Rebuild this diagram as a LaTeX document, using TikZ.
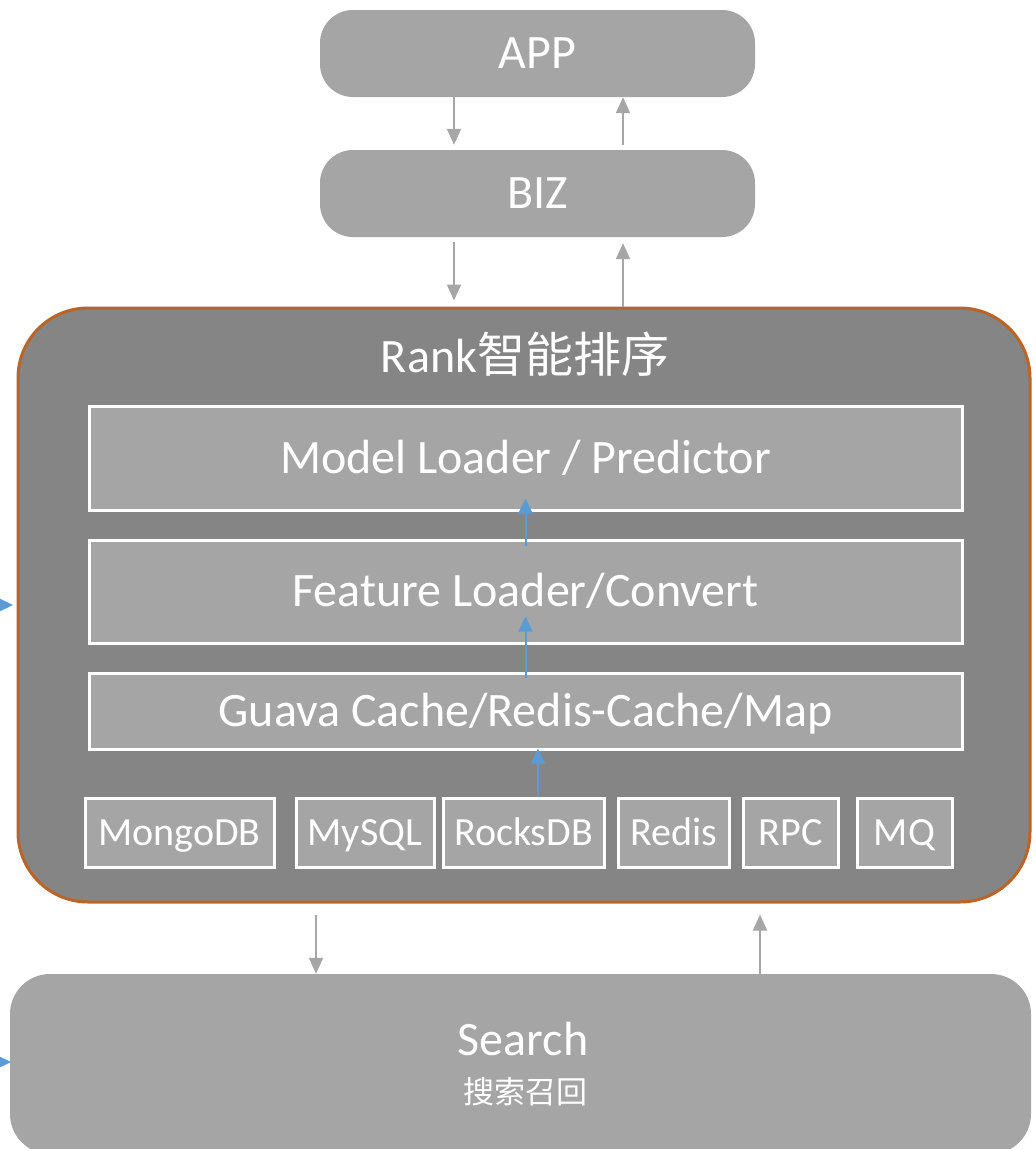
\documentclass[tikz,border=0pt]{standalone}
\usepackage{fontspec}
\setmainfont{Carlito}
\newfontfamily\cjk{Noto Sans CJK SC}
\usetikzlibrary{arrows.meta}
\definecolor{boxgray}{HTML}{A5A5A5}
\definecolor{rankgray}{HTML}{858585}
\definecolor{rankborder}{HTML}{BA6428}
\definecolor{arrowgray}{HTML}{A6A6A6}
\definecolor{arrowblue}{HTML}{5B9BD5}
\tikzset{
  bigtext/.style={font=\fontsize{48}{52}\selectfont, text=white, text height=38pt, text depth=8pt},
  smalltext/.style={font=\fontsize{40}{44}\selectfont, text=white, text height=33pt, text depth=8pt},
  pill/.style={fill=boxgray, draw=none, rounded corners=33pt, inner sep=0pt, bigtext},
  layerbox/.style={fill=boxgray, draw=white, line width=3pt, inner sep=0pt, bigtext},
  storebox/.style={layerbox, smalltext, minimum height=69pt},
  garrow/.style={draw=arrowgray, line width=2pt, -{Triangle[width=14pt,length=16pt]}},
  barrow/.style={draw=arrowblue, line width=2pt, -{Triangle[width=14pt,length=15pt]}},
}
\begin{document}
\begin{tikzpicture}[x=1pt,y=-1pt]
\useasboundingbox (0,0) rectangle (1036,1149);
\clip (0,0) rectangle (1036,1149);
\fill[white] (0,0) rectangle (1036,1149);

% top pills
\node[pill, minimum width=435pt, minimum height=87pt] (app) at (537.5,53.5) {APP};
\node[pill, minimum width=435pt, minimum height=87pt] (biz) at (537.5,193.5) {BIZ};

% rank container
\node[fill=rankgray, draw=rankborder, line width=3pt, rounded corners=70pt,
      minimum width=1012pt, minimum height=594pt, inner sep=0pt] (rank) at (524,605) {};
\node[bigtext] (ranktitle) at (525,357) {Rank{\cjk 智能排序}};

% layers
\node[layerbox, minimum width=873pt, minimum height=104pt] (model) at (525.5,458) {Model Loader / Predictor};
\node[layerbox, minimum width=873pt, minimum height=103pt] (feature) at (525.5,591.5) {Feature Loader/Convert};
\node[layerbox, minimum width=873pt, minimum height=76pt] (guava) at (525.5,711) {Guava Cache/Redis-Cache/Map};

% storage boxes
\node[storebox, minimum width=189pt] (mongo) at (179.5,832.5) {MongoDB};
\node[storebox, minimum width=138pt] (mysql) at (365,832.5) {MySQL};
\node[storebox, minimum width=161pt] (rocks) at (523.5,832.5) {RocksDB};
\node[storebox, minimum width=111pt] (redis) at (673.5,832.5) {Redis};
\node[storebox, minimum width=95pt] (rpc) at (790.5,832.5) {RPC};
\node[storebox, minimum width=95pt] (mq) at (904.5,832.5) {MQ};

% search
\node[fill=boxgray, rounded corners=40pt, minimum width=1021pt, minimum height=180pt, inner sep=0pt] (search) at (520.5,1064) {};
\node[bigtext] (searchtitle) at (523,1040) {Search};
\node[text=white, font=\cjk\fontsize{31}{34}\selectfont] (searchsub) at (525,1092) {搜索召回};

% gray arrows
\draw[garrow] ([xshift=-83.5pt]app.south) -- ([xshift=-83.5pt,yshift=5pt]biz.north);
\draw[garrow] ([xshift=85.5pt,yshift=5pt]biz.north) -- ([xshift=85.5pt]app.south);
\draw[garrow] ([xshift=-83.5pt,yshift=-5pt]biz.south) -- ([xshift=-70pt,yshift=6pt]rank.north);
\draw[garrow] ([xshift=99pt]rank.north) -- ([xshift=85.5pt,yshift=-6pt]biz.south);
\draw[garrow] ([xshift=-208pt,yshift=-11pt]rank.south) -- ([xshift=-204.5pt]search.north);
\draw[garrow] ([xshift=239.5pt]search.north) -- ([xshift=236pt,yshift=-11pt]rank.south);

% blue arrows
\draw[barrow] ([yshift=-7pt]feature.north) -- ([yshift=13pt]model.south);
\draw[barrow] ([yshift=-6pt]guava.north) -- ([yshift=28pt]feature.south);
\draw[barrow] ([xshift=14.5pt]rocks.north) -- ([xshift=12.5pt,yshift=2pt]guava.south);

% partial arrows entering from the left edge
\coordinate (lin1) at (-40,605);
\coordinate (lend1) at (13,605);
\coordinate (lin2) at (-40,1062);
\coordinate (lend2) at (11,1062);
\draw[barrow] (lin1) -- (lend1);
\draw[barrow] (lin2) -- (lend2);
\end{tikzpicture}
\end{document}
